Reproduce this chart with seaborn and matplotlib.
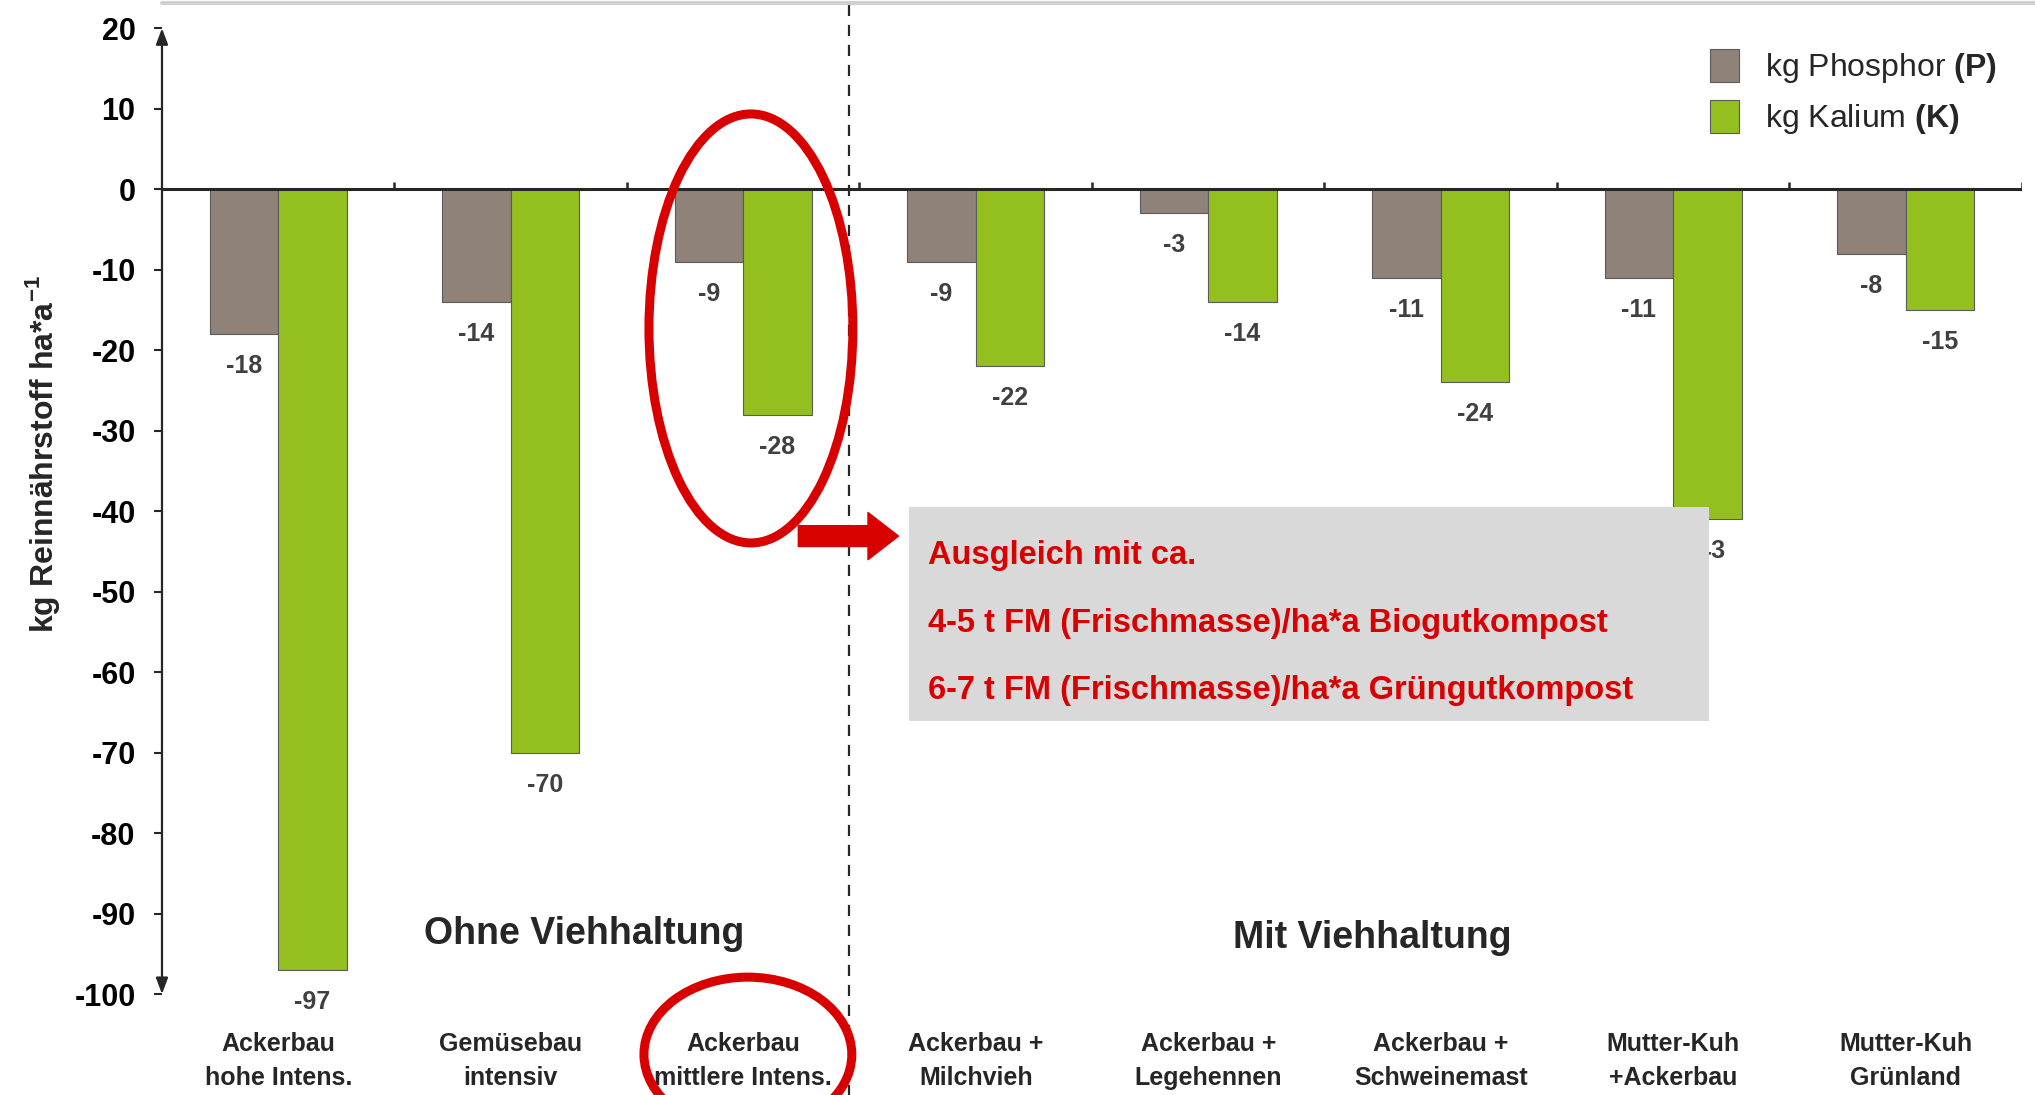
import matplotlib
matplotlib.use("Agg")
import matplotlib.pyplot as plt
from matplotlib.patches import Ellipse, Rectangle, Patch
from matplotlib.lines import Line2D
import pandas as pd
import seaborn as sns

# Daten: Nährstoffbilanz je Betriebstyp
kategorien = ["Ackerbau\nhohe Intens.", "Gemüsebau\nintensiv", "Ackerbau\nmittlere Intens.",
              "Ackerbau +\nMilchvieh", "Ackerbau +\nLegehennen", "Ackerbau +\nSchweinemast",
              "Mutter-Kuh\n+Ackerbau", "Mutter-Kuh\nGrünland"]
phosphor = [-18, -14, -9, -9, -3, -11, -11, -8]
kalium = [-97, -70, -28, -22, -14, -24, -41, -15]
kalium_labels = ["-97", "-70", "-28", "-22", "-14", "-24", "-43", "-15"]
y_ticks = [20, 10, 0, -10, -20, -30, -40, -50, -60, -70, -80, -90, -100]
box_zeilen = ["Ausgleich mit ca.",
              "4-5 t FM (Frischmasse)/ha*a Biogutkompost",
              "6-7 t FM (Frischmasse)/ha*a Grüngutkompost"]

FONT = "Liberation Sans"
sns.set_theme(style="white")
plt.rcParams["font.family"] = [FONT, "DejaVu Sans"]
plt.rcParams["mathtext.fontset"] = "custom"
plt.rcParams["mathtext.bf"] = FONT + ":bold"
plt.rcParams["mathtext.rm"] = FONT

col_p = "#8e8279"
col_k = "#93c01f"
rot = "#d90000"
dunkel = "#262626"

df = pd.DataFrame({
    "kat": kategorien * 2,
    "wert": phosphor + kalium,
    "naehr": ["P"] * len(kategorien) + ["K"] * len(kategorien),
})

fig = plt.figure(figsize=(20.35, 10.95), dpi=100)
ax = fig.add_axes([0.0796, 0.0922, 0.914, 0.882])

sns.barplot(data=df, x="kat", y="wert", hue="naehr", palette={"P": col_p, "K": col_k},
            width=0.59, gap=0, edgecolor="#5a5a5a", linewidth=0.8, legend=False, ax=ax,
            errorbar=None, saturation=1)

ax.set_xlim(-0.5, len(kategorien) - 0.5)
ax.set_ylim(-100, 20)
for s in ax.spines.values():
    s.set_visible(False)

ax.set_yticks(y_ticks)
ax.set_yticklabels([str(t) for t in y_ticks], fontsize=22, fontweight="bold", color="black")
ax.tick_params(axis="y", direction="out", length=6, width=1.5, color=dunkel, pad=13, left=True)
ax.tick_params(axis="x", length=0, pad=27)
ax.set_xticks(range(len(kategorien)))
ax.set_xticklabels(kategorien, fontsize=18, fontweight="bold", color=dunkel, linespacing=1.55)
ax.set_xlabel("")
ax.set_ylabel(r"kg Reinnährstoff ha*a$^{\mathbf{-1}}$", fontsize=23, fontweight="bold")
ax.yaxis.set_label_coords(-0.054, 0.559)

# Achsen: Nulllinie mit Trennstrichen, y-Achse mit Pfeilen
ax.axhline(0, color=dunkel, lw=2.2, zorder=3)
ax.vlines([i + 0.5 for i in range(len(kategorien))], 0, 0.9, color=dunkel, lw=1.8, zorder=3)
ax.annotate("", xy=(-0.5, 20), xytext=(-0.5, -100),
            arrowprops=dict(arrowstyle="<|-|>,head_length=0.8,head_width=0.3", color=dunkel, lw=1.6,
                            shrinkA=0, shrinkB=0), annotation_clip=False)

# Werte
for i, (p, k) in enumerate(zip(phosphor, kalium)):
    ax.annotate(str(p), (i - 0.1475, p), xytext=(0, -23), textcoords="offset points",
                ha="center", va="center", fontsize=18, fontweight="bold", color="#404040")
    ax.annotate(kalium_labels[i], (i + 0.1475, k), xytext=(0, -23), textcoords="offset points",
                ha="center", va="center", fontsize=18, fontweight="bold", color="#404040")

# Trennlinie
ax.axvline(2.455, ymin=-0.11, ymax=1.04, color=dunkel, lw=1.6, ls=(0, (5, 4)), clip_on=False)

# Gruppen
ax.text(1.316, -92.5, "Ohne Viehhaltung", ha="center", va="center", fontsize=27,
        fontweight="bold", color=dunkel)
ax.text(4.707, -93.0, "Mit Viehhaltung", ha="center", va="center", fontsize=27,
        fontweight="bold", color=dunkel)

# Markierungen
ax.add_patch(Ellipse((2.033, -17.3), 0.877, 53.3, fill=False, ec=rot, lw=6.5, zorder=6))
ax.add_patch(Ellipse((2.02, -107.5), 0.894, 19.2, fill=False, ec=rot, lw=6.5, zorder=6,
                     clip_on=False))
ax.annotate("", xy=(2.668, -43.1), xytext=(2.237, -43.1),
            arrowprops=dict(arrowstyle="simple,head_length=1.1,head_width=1.7,tail_width=0.75",
                            color=rot, mutation_scale=20, shrinkA=0, shrinkB=0))

ax.add_patch(Rectangle((2.712, -66.1), 3.442, 26.6, fc="#d9d9d9", ec="none", zorder=5))
for txt, y in zip(box_zeilen, [-45.5, -53.9, -62.3]):
    ax.text(2.796, y, txt, ha="left", va="center", fontsize=23.5, fontweight="bold",
            color=rot, zorder=7)

# Legende
handles = [Patch(fc=col_p, ec="#5a5a5a", lw=0.8), Patch(fc=col_k, ec="#5a5a5a", lw=0.8)]
ax.legend(handles, [r"kg Phosphor $\mathbf{(P)}$", r"kg Kalium $\mathbf{(K)}$"],
          loc="upper left", bbox_to_anchor=(0.8325, 0.979), frameon=False, fontsize=23,
          handlelength=0.9, handleheight=1.25, handletextpad=0.8, labelspacing=0.45,
          borderpad=0, borderaxespad=0)

fig.add_artist(Line2D([0.0796, 1.0], [0.997, 0.997], color="#d0d0d0", lw=3))

fig.savefig("out.png", dpi=100)
